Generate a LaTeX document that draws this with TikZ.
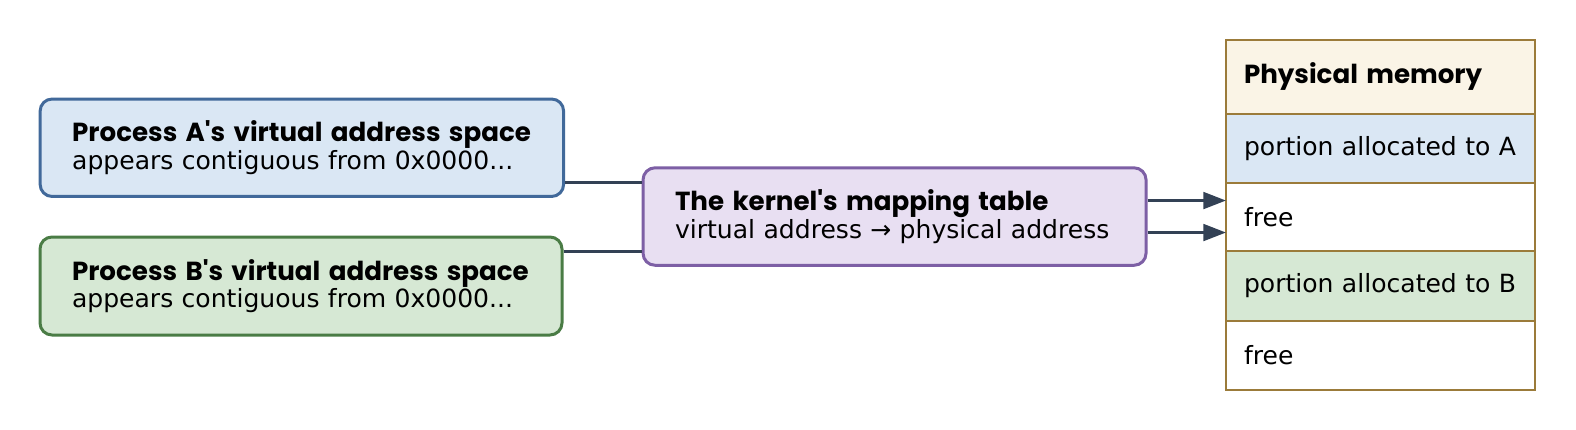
\documentclass[tikz,border=0pt]{standalone}
\usepackage{fontspec}
\setmainfont{DejaVu Sans}
\newfontfamily\headfont{Poppins}
\usepackage{tikz}
\usetikzlibrary{arrows.meta,positioning}
\definecolor{edgeA}{HTML}{41699A}
\definecolor{fillA}{HTML}{DAE7F4}
\definecolor{edgeB}{HTML}{4A7C45}
\definecolor{fillB}{HTML}{D6E8D4}
\definecolor{edgeK}{HTML}{7D5FA5}
\definecolor{fillK}{HTML}{E8DFF2}
\definecolor{edgeM}{HTML}{9B7B3A}
\definecolor{fillM}{HTML}{FAF4E6}
\definecolor{linkc}{HTML}{334155}
\tikzset{
  procbox/.style={draw, rounded corners=9pt, line width=2.25pt, inner xsep=24pt, align=left,
    font=\fontsize{18.8}{19.2}\selectfont, text=black},
  memrow/.style={draw=edgeM, line width=1.5pt, minimum width=231.75pt, text width=204.75pt,
    inner xsep=13.5pt, align=left, outer sep=0pt, font=\fontsize{18.8}{19.2}\selectfont},
  link/.style={line width=2.25pt, draw=linkc},
  arr/.style={-{Triangle[length=17pt,width=12.5pt]}, line width=2.25pt, draw=linkc}
}
\newcommand{\headtxt}[1]{{\headfont\bfseries\fontsize{19.6}{19.2}\selectfont #1}}

\begin{document}
\begin{tikzpicture}
  \useasboundingbox (0,0) rectangle (1182pt,-321.75pt);

  % the two processes
  \node[procbox, draw=edgeA, fill=fillA, minimum width=392.6pt, minimum height=73.1pt,
    text width=344.6pt] (procA) at (226.4pt,-110.8pt)
    {\headtxt{Process A\textquotesingle s virtual address space}\\appears contiguous from 0x0000...};
  \node[procbox, draw=edgeB, fill=fillB, minimum width=391.5pt, minimum height=73.5pt,
    text width=343.5pt] (procB) at (225.75pt,-214.5pt)
    {\headtxt{Process B\textquotesingle s virtual address space}\\appears contiguous from 0x0000...};

  % mapping table
  \node[procbox, draw=edgeK, fill=fillK, minimum width=377.25pt, minimum height=73.1pt,
    text width=329.25pt] (kernel) at (670.9pt,-162.4pt)
    {\headtxt{The kernel\textquotesingle s mapping table}\\virtual address → physical address};

  % physical memory column
  \node[memrow, fill=fillM, minimum height=55.2pt, anchor=north west] (mhead) at (919.5pt,-30pt)
    {\headtxt{Physical memory}};
  \node[memrow, fill=fillA, minimum height=52pt, below=0pt of mhead] (mA) {portion allocated to A};
  \node[memrow, fill=white, minimum height=51.3pt, below=0pt of mA] (mfree1) {free};
  \node[memrow, fill=fillB, minimum height=52pt, below=0pt of mfree1] (mB) {portion allocated to B};
  \node[memrow, fill=white, minimum height=51.7pt, below=0pt of mB] (mfree2) {free};

  \draw[link] ([yshift=-26.1pt]procA.east) -- ([yshift=-26.1pt]procA.east -| kernel.west);
  \draw[link] ([yshift=26pt]procB.east) -- ([yshift=26pt]procB.east -| kernel.west);
  \draw[arr] ([yshift=12pt]kernel.east) -- ([yshift=12pt]kernel.east -| mfree1.west);
  \draw[arr] ([yshift=-12pt]kernel.east) -- ([yshift=-12pt]kernel.east -| mfree1.west);
\end{tikzpicture}
\end{document}
